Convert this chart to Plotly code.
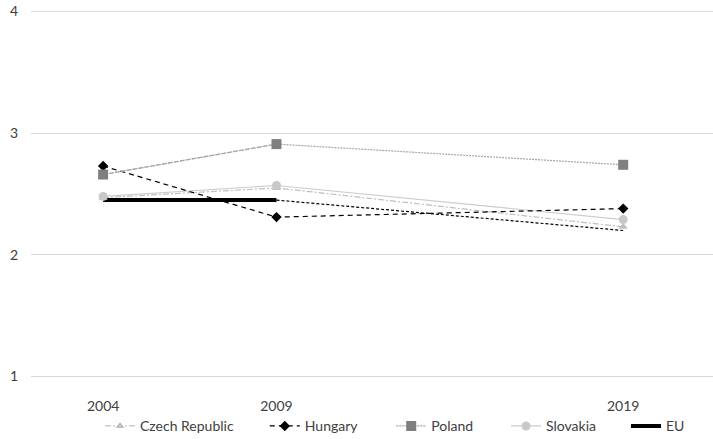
import plotly.graph_objects as go

# Survey years and mean scores per country
years = [2004, 2009, 2019]
czech_republic = [2.47, 2.55, 2.23]
hungary = [2.73, 2.31, 2.38]
poland = [2.66, 2.91, 2.74]
slovakia = [2.48, 2.57, 2.29]
eu = [2.45, 2.45, 2.20]

y_ticks = [1, 2, 3, 4]
font_family = "Lato, 'Open Sans', sans-serif"
text_color = "#404040"

# left edge (paper x) of each one-entry legend along the bottom row
legend_x = {"legend": 0.1012, "legend2": 0.3428, "legend3": 0.5282,
            "legend4": 0.6965, "legend5": 0.8724}

fig = go.Figure()

# EU average: bold line across the first two waves, thin dashed continuation
fig.add_trace(go.Scatter(
    x=years[:2], y=eu[:2], name="EU", mode="lines", legend="legend5",
    line=dict(color="black", width=4),
))
fig.add_trace(go.Scatter(
    x=years[1:], y=eu[1:], mode="lines", showlegend=False, hoverinfo="skip",
    line=dict(color="black", width=1.2, dash="3px,2px"),
))

fig.add_trace(go.Scatter(
    x=years, y=czech_republic, name="Czech Republic", mode="lines+markers",
    legend="legend",
    line=dict(color="#bfbfbf", width=1.2, dash="6px,2px,2px,2px"),
    marker=dict(symbol="triangle-up", size=8, color="#bfbfbf"),
))
fig.add_trace(go.Scatter(
    x=years, y=slovakia, name="Slovakia", mode="lines+markers", legend="legend4",
    line=dict(color="#cccccc", width=1.2),
    marker=dict(symbol="circle", size=9, color="#c8c8c8"),
))
fig.add_trace(go.Scatter(
    x=years, y=hungary, name="Hungary", mode="lines+markers", legend="legend2",
    line=dict(color="black", width=1.2, dash="5px,4px"),
    marker=dict(symbol="diamond", size=8, color="black"),
))
# Poland: dashed first segment, dotted afterwards
fig.add_trace(go.Scatter(
    x=years[:2], y=poland[:2], mode="lines", showlegend=False, hoverinfo="skip",
    line=dict(color="#a6a6a6", width=1.2, dash="4px,2px"),
))
fig.add_trace(go.Scatter(
    x=years, y=poland, name="Poland", mode="lines+markers", legend="legend3",
    line=dict(color="#a6a6a6", width=1.2, dash="2px,1px"),
    marker=dict(symbol="square", size=10, color="#7f7f7f"),
))

legend_common = dict(
    orientation="h", xanchor="left", y=-0.128, yanchor="middle",
    font=dict(family=font_family, size=14, color=text_color),
    bgcolor="rgba(0,0,0,0)",
)

fig.update_layout(
    width=713, height=439,
    margin=dict(l=31, r=0, t=8.5, b=59.5, autoexpand=False),
    paper_bgcolor="white", plot_bgcolor="white",
    font=dict(family=font_family, size=14, color=text_color),
    showlegend=True,
    xaxis=dict(
        range=[2001.92, 2021.59], tickvals=years, ticktext=[str(y) for y in years],
        showgrid=False, zeroline=False, showline=False, ticks="",
        ticklabelstandoff=17,
    ),
    yaxis=dict(
        range=[0.98, 4.02], tickvals=y_ticks, ticktext=[str(v) for v in y_ticks],
        showgrid=True, gridcolor="#d9d9d9", gridwidth=1,
        zeroline=False, showline=False, ticks="", ticklabelstandoff=12,
    ),
)
for name, xpos in legend_x.items():
    fig.update_layout({name: dict(legend_common, x=xpos)})

fig.write_html("out.html")
